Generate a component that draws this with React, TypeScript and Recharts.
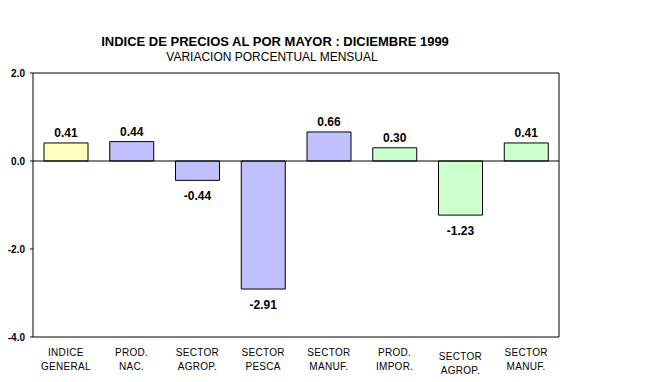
import { BarChart, Bar, XAxis, YAxis, Cell, LabelList, ReferenceLine, ReferenceArea } from 'recharts';

const categories = [
    'INDICE\nGENERAL',
    'PROD.\nNAC.',
    'SECTOR\nAGROP.',
    'SECTOR\nPESCA',
    'SECTOR\nMANUF.',
    'PROD.\nIMPOR.',
    'SECTOR\nAGROP.',
    'SECTOR\nMANUF.',
];
const values = [0.41, 0.44, -0.44, -2.91, 0.66, 0.3, -1.23, 0.41];
const barColors = ['#FFFFC0', '#C0C0FF', '#C0C0FF', '#C0C0FF', '#C0C0FF', '#CCFFCC', '#CCFFCC', '#CCFFCC'];
const yTicks = [-4, -2, 0, 2];

const data = categories.map((name, i) => ({ name, value: values[i] }));

const font = 'Arial, "Liberation Sans", sans-serif';

function CategoryTick(props: any) {
    const { x, y, payload, index } = props;
    const lines = String(payload.value).split('\n');
    const dy = index === 6 ? 4 : 0;
    return (
        <text x={x} y={y + 11 + dy} textAnchor="middle" fontFamily={font} fontSize={10} fill="#000" letterSpacing={0.3}>
            {lines.map((l: string, i: number) => (
                <tspan key={i} x={x} dy={i === 0 ? 0 : 14}>{l}</tspan>
            ))}
        </text>
    );
}

function ValueLabel(props: any) {
    const { x, y, width, height, value } = props;
    const neg = value < 0;
    const top = Math.min(y, y + height);
    const bottom = Math.max(y, y + height);
    return (
        <text
            x={x + width / 2}
            y={neg ? bottom + 20 : top - 6}
            textAnchor="middle"
            fontFamily={font}
            fontSize={12}
            fontWeight="bold"
            fill="#000"
        >
            {value.toFixed(2)}
        </text>
    );
}

export default function App() {
    return (
        <div style={{ position: 'absolute', left: 0, top: 0, width: 657, height: 382, background: '#fff', fontFamily: font }}>
            <div style={{ position: 'absolute', left: 0, width: 550, top: 34, textAlign: 'center', fontSize: 13, fontWeight: 'bold' }}>
                INDICE DE PRECIOS AL POR MAYOR : DICIEMBRE 1999
            </div>
            <div style={{ position: 'absolute', left: 0, width: 544, top: 50, textAlign: 'center', fontSize: 12 }}>
                VARIACION PORCENTUAL MENSUAL
            </div>
            <BarChart
                width={657}
                height={382}
                data={data}
                margin={{ top: 73, right: 98, left: 0, bottom: 0 }}
                style={{ position: 'absolute', left: 0, top: 0 }}
            >
                <XAxis dataKey="name" axisLine={false} tickLine={false} tick={<CategoryTick />} interval={0} height={45} />
                <YAxis
                    width={33}
                    domain={[-4, 2]}
                    ticks={yTicks}
                    axisLine={false}
                    tickSize={3}
                    tickMargin={5}
                    stroke="#000"
                    tickFormatter={(v: number) => v.toFixed(1)}
                    tick={{ fontFamily: font, fontSize: 10, fontWeight: 'bold', fill: '#000' }}
                />
                <ReferenceArea y1={-4} y2={2} fill="none" stroke="#000" strokeWidth={1} />
                <ReferenceLine y={0} stroke="#000" />
                <Bar dataKey="value" barSize={44} stroke="#000" strokeWidth={1} isAnimationActive={false}>
                    {data.map((_, i) => (
                        <Cell key={i} fill={barColors[i]} />
                    ))}
                    <LabelList dataKey="value" content={<ValueLabel />} />
                </Bar>
            </BarChart>
        </div>
    );
}
